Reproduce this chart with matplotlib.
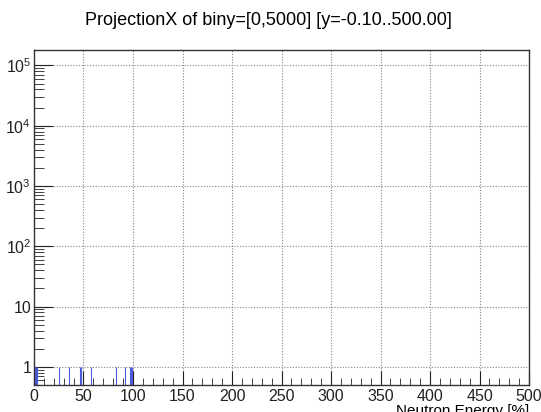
import numpy as np
import matplotlib.pyplot as plt
from matplotlib.ticker import MultipleLocator, FixedLocator, FuncFormatter

plt.rcParams['font.family'] = ['Liberation Sans', 'DejaVu Sans']
plt.rcParams['mathtext.default'] = 'regular'

# entries of the projection (each bin holds one count)
energies = [0.6, 1.5, 2.4, 3.3, 25.0, 35.0, 46.3, 47.0, 57.2, 82.8, 91.7, 97.4, 98.2, 99.0]
counts = [1] * len(energies)

title = 'ProjectionX of biny=[0,5000] [y=-0.10..500.00]'
xlabel = 'Neutron Energy [%]'

ymin, ymax = 0.5, 1.8e5

fig = plt.figure(figsize=(5.41, 4.12), dpi=100)
ax = fig.add_axes([0.0628, 0.0655, 0.9152, 0.8131])

ax.vlines(energies, ymin, counts, color='#4a5ad8', lw=0.8)

ax.set_yscale('log')
ax.set_xlim(0, 500)
ax.set_ylim(ymin, ymax)

ax.xaxis.set_major_locator(MultipleLocator(50))
ax.xaxis.set_minor_locator(MultipleLocator(10))
decades = [1, 10, 100, 1e3, 1e4, 1e5]
ax.yaxis.set_major_locator(FixedLocator(decades))
minors = [m * d for d in [0.1] + decades for m in range(2, 10)]
ax.yaxis.set_minor_locator(FixedLocator(minors))

def yfmt(v, pos):
    if v == 1:
        return '1'
    if v == 10:
        return '10'
    return r'$10^{%d}$' % int(round(np.log10(v)))

ax.yaxis.set_major_formatter(FuncFormatter(yfmt))

ax.tick_params(which='both', direction='in', top=False, right=False, colors='#222222', labelsize=11.5)
ax.tick_params(axis='x', which='major', length=10, pad=3)
ax.tick_params(axis='x', which='minor', length=5)
ax.tick_params(axis='y', which='major', length=14, pad=2)
ax.tick_params(axis='y', which='minor', length=7)

ax.grid(True, which='major', linestyle=(0, (1, 1.5)), color='#888888', lw=0.8)
for s in ax.spines.values():
    s.set_color('#333333')
    s.set_linewidth(1.0)

ax.set_xlabel(xlabel, loc='right', fontsize=11, labelpad=0)
fig.text(0.497, 0.950, title, ha='center', va='center', fontsize=13)

plt.savefig('out.png', dpi=100)
